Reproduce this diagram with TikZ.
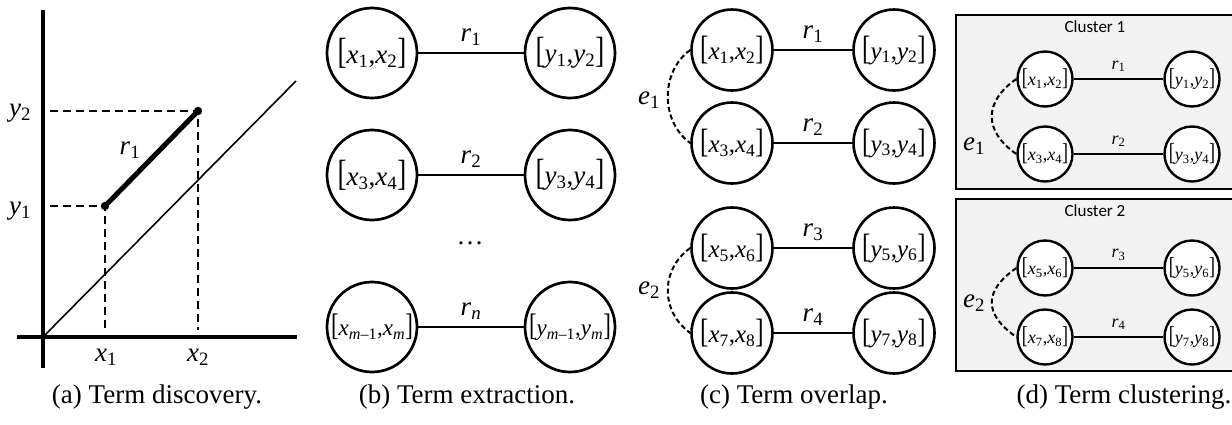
\documentclass[tikz,border=0pt]{standalone}
\usepackage{fontspec}
\setmainfont{Liberation Serif}
\newfontfamily\calibri{Carlito}
\usepackage{graphicx}
\newcommand\iv[2]{\textit{#1}\textsubscript{#2}}
\newcommand\brk[2]{\scalebox{1}[1.35]{[}#1,#2\scalebox{1}[1.35]{]}}
\tikzset{
  circB/.style={circle,draw,line width=2.7pt,minimum size=90pt,inner sep=0pt,fill=white,font=\fontsize{27}{30}\selectfont},
  circC/.style={circle,draw,line width=2.6pt,minimum size=81pt,inner sep=0pt,fill=white,font=\fontsize{25}{28}\selectfont},
  circD/.style={circle,draw,line width=2.4pt,minimum size=55pt,inner sep=0pt,fill=white,font=\fontsize{18}{20}\selectfont},
  link/.style={line width=2pt},
  rlab/.style={font=\fontsize{27}{30}\selectfont,above=3pt},
  rlabD/.style={font=\fontsize{18}{20}\selectfont,above=3pt},
  elink/.style={line width=2pt,dash pattern=on 5pt off 3pt},
  guide/.style={line width=1.7pt,dash pattern=on 8pt off 5pt},
  lab/.style={font=\fontsize{27}{30}\selectfont},
  captxt/.style={font=\fontsize{27}{30}\selectfont},
  cluster/.style={draw,line width=2.4pt,fill=black!5},
  cltitle/.style={font=\calibri\fontsize{17}{19}\selectfont},
}
\begin{document}
\begin{tikzpicture}[x=1pt,y=-1pt]
\useasboundingbox (0,0) rectangle (1232,424);
% ---------- (a) ----------
\coordinate (O) at (43,337);
\coordinate (vt) at (43,10);
\coordinate (vb) at (43,368);
\coordinate (hl) at (17,337);
\coordinate (hr) at (297,337);
\coordinate (dg) at (296,81);
\coordinate (P1) at (105,206);
\coordinate (P2) at (198,111);
\coordinate (Y1) at (50,206);
\coordinate (Y2) at (50,111);
\coordinate (X1) at (105,330);
\coordinate (X2) at (198,330);
\draw[line width=4pt] (vt) -- (vb);
\draw[line width=4pt] (hl) -- (hr);
\draw[line width=1.6pt] (O) -- (dg);
\draw[guide] (Y2) -- (P2) -- (X2);
\draw[guide] (Y1) -- (P1) -- (X1);
\draw[line width=5pt] (P1) -- (P2);
\fill (P1) circle (4.2pt);
\fill (P2) circle (4.2pt);
\node[lab] (ly2) at (20,113) {\iv{y}{2}};
\node[lab] (ly1) at (20,211) {\iv{y}{1}};
\node[lab] (lx1) at (106,357) {\iv{x}{1}};
\node[lab] (lx2) at (198,357) {\iv{x}{2}};
\node[lab] (lr1) at (130,150) {\iv{r}{1}};
\node[captxt] (capa) at (157,397) {(a) Term discovery.};
% ---------- (b) ----------
\node[circB] (b1l) at (372,53) {\brk{\iv{x}{1}}{\iv{x}{2}}};
\node[circB] (b1r) at (570,53) {\brk{\iv{y}{1}}{\iv{y}{2}}};
\node[circB] (b2l) at (372,175) {\brk{\iv{x}{3}}{\iv{x}{4}}};
\node[circB] (b2r) at (570,175) {\brk{\iv{y}{3}}{\iv{y}{4}}};
\node[circB,font=\fontsize{23}{26}\selectfont] (b3l) at (372,327) {\brk{\iv{x}{\textit{m}--1}}{\iv{x}{\textit{m}}}};
\node[circB,font=\fontsize{23}{26}\selectfont] (b3r) at (570,327) {\brk{\iv{y}{\textit{m}--1}}{\iv{y}{\textit{m}}}};
\draw[link] (b1l) -- node[rlab] {\iv{r}{1}} (b1r);
\draw[link] (b2l) -- node[rlab] {\iv{r}{2}} (b2r);
\draw[link] (b3l) -- node[rlab] {\iv{r}{\textit{n}}} (b3r);
\node[lab] (dots) at (470,243) {\dots};
\node[captxt] (capb) at (467,397) {(b) Term extraction.};
% ---------- (c) ----------
\node[circC] (c1l) at (732,50) {\brk{\iv{x}{1}}{\iv{x}{2}}};
\node[circC] (c1r) at (894,50) {\brk{\iv{y}{1}}{\iv{y}{2}}};
\node[circC] (c2l) at (732,143) {\brk{\iv{x}{3}}{\iv{x}{4}}};
\node[circC] (c2r) at (894,143) {\brk{\iv{y}{3}}{\iv{y}{4}}};
\node[circC] (c3l) at (732,248) {\brk{\iv{x}{5}}{\iv{x}{6}}};
\node[circC] (c3r) at (894,248) {\brk{\iv{y}{5}}{\iv{y}{6}}};
\node[circC] (c4l) at (732,333) {\brk{\iv{x}{7}}{\iv{x}{8}}};
\node[circC] (c4r) at (894,333) {\brk{\iv{y}{7}}{\iv{y}{8}}};
\draw[link] (c1l) -- node[rlab] {\iv{r}{1}} (c1r);
\draw[link] (c2l) -- node[rlab] {\iv{r}{2}} (c2r);
\draw[link] (c3l) -- node[rlab] {\iv{r}{3}} (c3r);
\draw[link] (c4l) -- node[rlab] {\iv{r}{4}} (c4r);
\draw[elink] (c1l.west) to[out=216,in=144,distance=37pt] (c2l.west);
\draw[elink] (c3l.west) to[out=216,in=144,distance=37pt] (c4l.west);
\node[lab] (e1c) at (649,100) {\iv{e}{1}};
\node[lab] (e2c) at (649,290) {\iv{e}{2}};
\node[captxt] (capc) at (794,397) {(c) Term overlap.};
% ---------- (d) ----------
\draw[cluster] (956,15) rectangle (1236,189);
\draw[cluster] (956,199) rectangle (1236,371);
\node[cltitle] (cl1) at (1095,27) {Cluster 1};
\node[cltitle] (cl2) at (1095,211) {Cluster 2};
\node[circD] (d1l) at (1045,79) {\brk{\iv{x}{1}}{\iv{x}{2}}};
\node[circD] (d1r) at (1192,79) {\brk{\iv{y}{1}}{\iv{y}{2}}};
\node[circD] (d2l) at (1045,154) {\brk{\iv{x}{3}}{\iv{x}{4}}};
\node[circD] (d2r) at (1192,154) {\brk{\iv{y}{3}}{\iv{y}{4}}};
\node[circD] (d3l) at (1045,268) {\brk{\iv{x}{5}}{\iv{x}{6}}};
\node[circD] (d3r) at (1192,268) {\brk{\iv{y}{5}}{\iv{y}{6}}};
\node[circD] (d4l) at (1045,337) {\brk{\iv{x}{7}}{\iv{x}{8}}};
\node[circD] (d4r) at (1192,337) {\brk{\iv{y}{7}}{\iv{y}{8}}};
\draw[link] (d1l) -- node[rlabD] {\iv{r}{1}} (d1r);
\draw[link] (d2l) -- node[rlabD] {\iv{r}{2}} (d2r);
\draw[link] (d3l) -- node[rlabD] {\iv{r}{3}} (d3r);
\draw[link] (d4l) -- node[rlabD] {\iv{r}{4}} (d4r);
\draw[elink] (d1l.west) to[out=215,in=145,distance=40pt] (d2l.west);
\draw[elink] (d3l.west) to[out=215,in=145,distance=40pt] (d4l.west);
\node[lab] (e1d) at (974,146) {\iv{e}{1}};
\node[lab] (e2d) at (974,303) {\iv{e}{2}};
\node[captxt] (capd) at (1124,397) {(d) Term clustering.};
\end{tikzpicture}
\end{document}
